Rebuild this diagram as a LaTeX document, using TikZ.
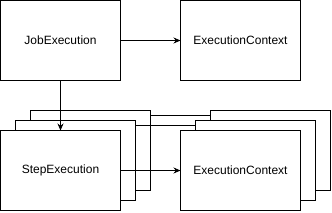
\documentclass[tikz,border=0pt]{standalone}
\usepackage{fontspec}
\setmainfont{Liberation Sans}
\usetikzlibrary{arrows.meta, positioning}
\tikzset{
  ebox/.style={rectangle, draw=black, fill=white, line width=1pt, outer sep=0pt,
               minimum width=120pt, minimum height=80pt, align=center,
               font=\fontsize{12}{14}\selectfont},
  arr/.style={-{Stealth[length=7pt, width=6pt]}, line width=1pt, #1},
  arr/.default=black,
  lnk/.style={line width=1pt},
}
\begin{document}
\begin{tikzpicture}[x=1pt, y=-1pt, node distance=60pt]
  \useasboundingbox (0,0) rectangle (332,212);
  \node[ebox] (job) at (60.5,40.5) {JobExecution};
  \node[ebox, right=of job] (jobctx) {ExecutionContext};

  \node[ebox] (stepc) at (90.5,150.5) {};
  \node[ebox] (ctxc) at (270.5,150.5) {};
  \draw[lnk] ([yshift=-4.5pt]stepc.north east) -- ([yshift=-4.5pt]ctxc.north west);
  \node[ebox] (stepb) at (75.5,160.5) {};
  \node[ebox] (ctxb) at (255.5,160.5) {};
  \draw[lnk] ([yshift=-5pt]stepb.north east) -- ([yshift=-5pt]ctxb.north west);
  \node[ebox, below=50pt of job] (step) {StepExecution};
  \node[ebox, right=of step] (ctx) {ExecutionContext};

  \draw[arr] (job) -- (jobctx);
  \draw[arr] (job) -- (step);
  \draw[arr] (step) -- (ctx);
\end{tikzpicture}
\end{document}
